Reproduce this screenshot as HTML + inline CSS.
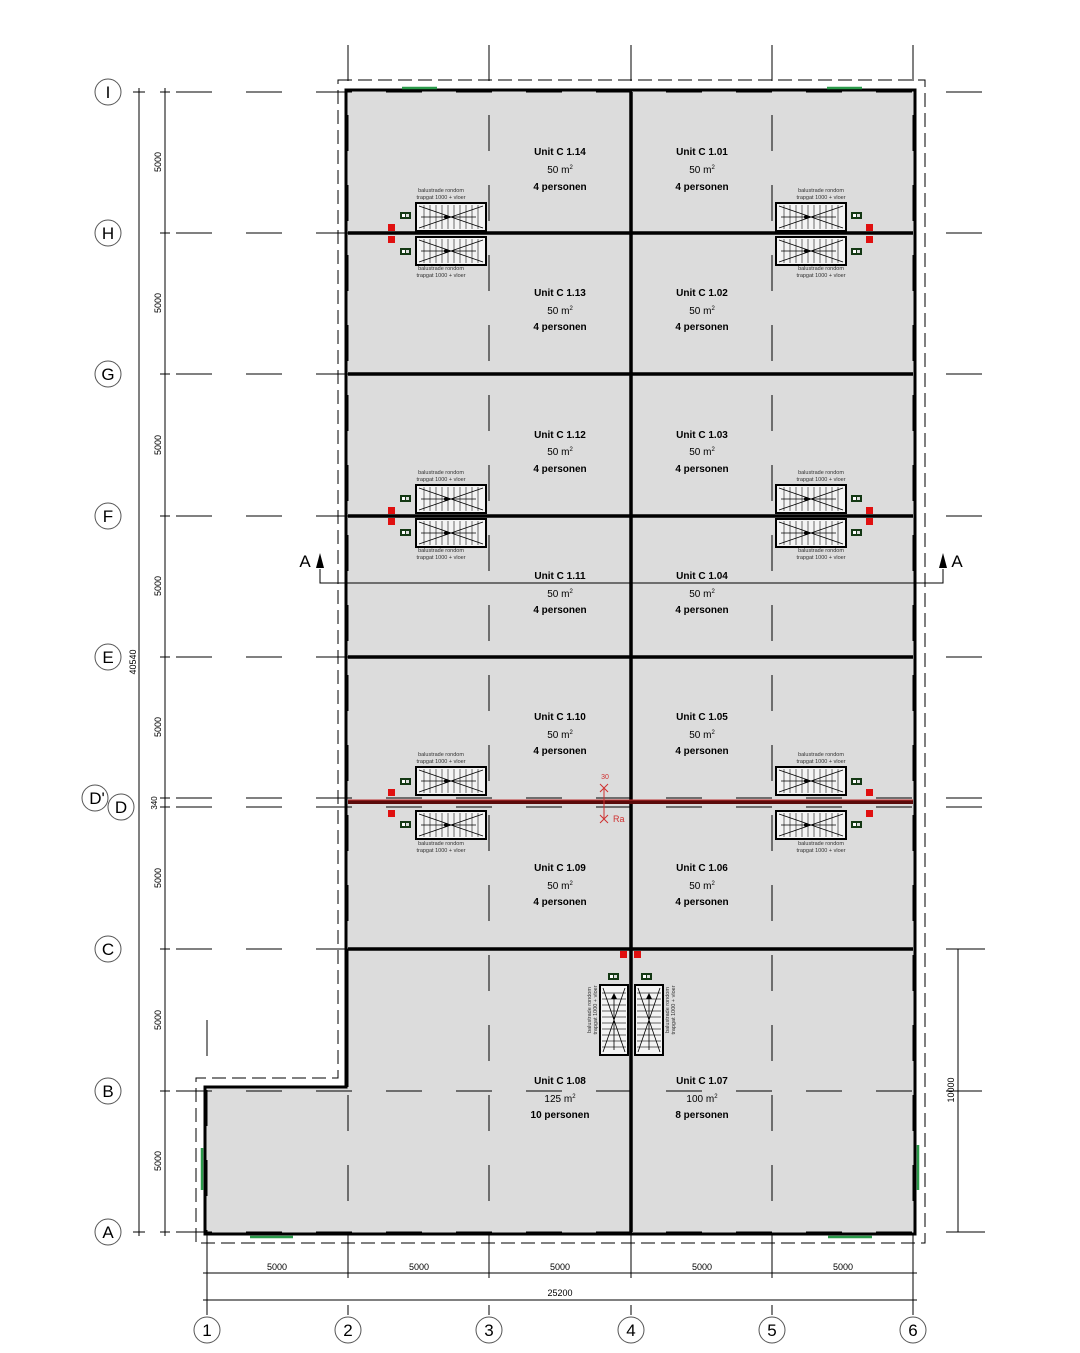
<!DOCTYPE html>
<html><head><meta charset="utf-8"><style>
html,body{margin:0;padding:0;background:#fff}
svg{display:block;font-family:"Liberation Sans",Arial,sans-serif}
.u{font-weight:bold;font-size:10px;text-anchor:middle}
.m{font-size:10px;text-anchor:middle}
.s{font-size:5.5px;text-anchor:middle;fill:#333}
.d{font-size:9px;text-anchor:middle}
</style></head><body>
<svg width="1080" height="1353" viewBox="0 0 1080 1353" xmlns="http://www.w3.org/2000/svg">
<defs>
<g id="st">
<rect x="0" y="0" width="70" height="28" fill="#f4f4f4" stroke="#000" stroke-width="2"/>
<path d="M8 2V26M14 2V26M20 2V26M26 2V26M32 2V26M38 2V26M44 2V26M50 2V26M56 2V26M62 2V26" stroke="#333" stroke-width="0.7"/>
<path d="M3 3L67 25M3 25L67 3M5 14H60" stroke="#000" stroke-width="0.8"/>
<circle cx="30" cy="14" r="2"/>
</g>
<g id="vst">
<rect x="0" y="0" width="28" height="70" fill="#f4f4f4" stroke="#000" stroke-width="2"/>
<path d="M2 8H26M2 14H26M2 20H26M2 26H26M2 32H26M2 38H26M2 44H26M2 50H26M2 56H26M2 62H26" stroke="#333" stroke-width="0.7"/>
<path d="M3 3L25 67M25 3L3 67M14 10V65" stroke="#000" stroke-width="0.8"/>
<path d="M14 8l-3 6h6z"/>
</g>
<g id="gb"><rect width="11" height="7" fill="#143814"/><rect x="2" y="2" width="3" height="3" fill="#fff"/><rect x="6" y="2" width="3" height="3" fill="#ddd"/></g>
</defs>

<path d="M338 80H925V1243H196V1078H338Z" fill="none" stroke="#000" stroke-width="1" stroke-dasharray="14 6"/>
<path d="M346 90H915V1234H205V1087H346Z" fill="#dcdcdc"/>

<g stroke="#000" stroke-width="1" stroke-dasharray="36 34">
<line x1="176" y1="92" x2="985" y2="92"/>
<line x1="176" y1="233" x2="985" y2="233"/>
<line x1="176" y1="374" x2="985" y2="374"/>
<line x1="176" y1="516" x2="985" y2="516"/>
<line x1="176" y1="657" x2="985" y2="657"/>
<line x1="176" y1="798" x2="985" y2="798"/>
<line x1="176" y1="807" x2="985" y2="807"/>
<line x1="176" y1="949" x2="985" y2="949"/>
<line x1="176" y1="1091" x2="985" y2="1091"/>
<line x1="176" y1="1232" x2="985" y2="1232"/>
</g>
<g stroke="#000" stroke-width="1" stroke-dasharray="36 34">
<line x1="348" y1="45" x2="348" y2="1315"/>
<line x1="489" y1="45" x2="489" y2="1315"/>
<line x1="631" y1="45" x2="631" y2="1315"/>
<line x1="772" y1="45" x2="772" y2="1315"/>
<line x1="913" y1="45" x2="913" y2="1315"/>
<line x1="207" y1="1020" x2="207" y2="1315"/>
</g>

<g stroke="#000" fill="none">
<path d="M346 90H915V1234H205V1087H346Z" stroke-width="3"/>
<g stroke-width="3.5">
<line x1="348" y1="233" x2="913" y2="233"/>
<line x1="348" y1="374" x2="913" y2="374"/>
<line x1="348" y1="516" x2="913" y2="516"/>
<line x1="348" y1="657" x2="913" y2="657"/>
<line x1="348" y1="949" x2="913" y2="949"/>
<line x1="631" y1="92" x2="631" y2="1232"/>
</g>
<line x1="348" y1="1087" x2="348" y2="949" stroke-width="1"/>
</g>
<line x1="348" y1="802" x2="913" y2="802" stroke="#5a0a0a" stroke-width="4"/>
<line x1="348" y1="800" x2="913" y2="800" stroke="#c03030" stroke-width="1"/>
<g stroke="#d03030" fill="none" stroke-width="1"><path d="M600 784l8 8M608 784l-8 8M600 815l8 8M608 815l-8 8M604 788V819"/></g>
<text x="605" y="779" font-size="7" fill="#d03030" text-anchor="middle">30</text>
<text x="613" y="822" font-size="9" fill="#d03030">Ra</text>

<g stroke="#2a9a4a" stroke-width="2.5">
<line x1="402" y1="88" x2="437" y2="88"/><line x1="827" y1="88" x2="862" y2="88"/>
<line x1="250" y1="1237" x2="293" y2="1237"/><line x1="828" y1="1237" x2="872" y2="1237"/>
<line x1="202" y1="1148" x2="202" y2="1190"/><line x1="918" y1="1145" x2="918" y2="1190"/>
</g>

<use href="#st" x="416" y="203"/><use href="#st" x="416" y="237"/>
<use href="#st" x="776" y="203"/><use href="#st" x="776" y="237"/>
<use href="#st" x="416" y="485"/><use href="#st" x="416" y="519"/>
<use href="#st" x="776" y="485"/><use href="#st" x="776" y="519"/>
<use href="#st" x="416" y="767"/><use href="#st" x="416" y="811"/>
<use href="#st" x="776" y="767"/><use href="#st" x="776" y="811"/>
<use href="#vst" x="600" y="985"/><use href="#vst" x="635" y="985"/>

<g>
<use href="#gb" x="400" y="212"/><use href="#gb" x="400" y="248"/>
<use href="#gb" x="851" y="212"/><use href="#gb" x="851" y="248"/>
<use href="#gb" x="400" y="495"/><use href="#gb" x="400" y="529"/>
<use href="#gb" x="851" y="495"/><use href="#gb" x="851" y="529"/>
<use href="#gb" x="400" y="778"/><use href="#gb" x="400" y="821"/>
<use href="#gb" x="851" y="778"/><use href="#gb" x="851" y="821"/>
<use href="#gb" x="608" y="973"/><use href="#gb" x="641" y="973"/>
</g>
<g fill="#e01010">
<rect x="388" y="224" width="7" height="7"/><rect x="388" y="236" width="7" height="7"/>
<rect x="866" y="224" width="7" height="7"/><rect x="866" y="236" width="7" height="7"/>
<rect x="388" y="507" width="7" height="7"/><rect x="388" y="518" width="7" height="7"/>
<rect x="866" y="507" width="7" height="7"/><rect x="866" y="518" width="7" height="7"/>
<rect x="388" y="789" width="7" height="7"/><rect x="388" y="810" width="7" height="7"/>
<rect x="866" y="789" width="7" height="7"/><rect x="866" y="810" width="7" height="7"/>
<rect x="620" y="951" width="7" height="7"/><rect x="634" y="951" width="7" height="7"/>
</g>

<g class="s">
<text x="441" y="192">balustrade rondom</text><text x="441" y="199">trapgat 1000 + vloer</text>
<text x="441" y="270">balustrade rondom</text><text x="441" y="277">trapgat 1000 + vloer</text>
<text x="821" y="192">balustrade rondom</text><text x="821" y="199">trapgat 1000 + vloer</text>
<text x="821" y="270">balustrade rondom</text><text x="821" y="277">trapgat 1000 + vloer</text>
<text x="441" y="474">balustrade rondom</text><text x="441" y="481">trapgat 1000 + vloer</text>
<text x="441" y="552">balustrade rondom</text><text x="441" y="559">trapgat 1000 + vloer</text>
<text x="821" y="474">balustrade rondom</text><text x="821" y="481">trapgat 1000 + vloer</text>
<text x="821" y="552">balustrade rondom</text><text x="821" y="559">trapgat 1000 + vloer</text>
<text x="441" y="756">balustrade rondom</text><text x="441" y="763">trapgat 1000 + vloer</text>
<text x="441" y="845">balustrade rondom</text><text x="441" y="852">trapgat 1000 + vloer</text>
<text x="821" y="756">balustrade rondom</text><text x="821" y="763">trapgat 1000 + vloer</text>
<text x="821" y="845">balustrade rondom</text><text x="821" y="852">trapgat 1000 + vloer</text>
<text transform="translate(591 1010) rotate(-90)">balustrade rondom</text>
<text transform="translate(597 1010) rotate(-90)">trapgat 1000 + vloer</text>
<text transform="translate(669 1010) rotate(-90)">balustrade rondom</text>
<text transform="translate(675 1010) rotate(-90)">trapgat 1000 + vloer</text>
</g>

<g>
<text class="u" x="560" y="155">Unit C 1.14</text><text class="m" x="560" y="173">50 m<tspan font-size="6" dy="-4">2</tspan></text><text class="u" x="560" y="190">4 personen</text>
<text class="u" x="702" y="155">Unit C 1.01</text><text class="m" x="702" y="173">50 m<tspan font-size="6" dy="-4">2</tspan></text><text class="u" x="702" y="190">4 personen</text>
<text class="u" x="560" y="296">Unit C 1.13</text><text class="m" x="560" y="314">50 m<tspan font-size="6" dy="-4">2</tspan></text><text class="u" x="560" y="330">4 personen</text>
<text class="u" x="702" y="296">Unit C 1.02</text><text class="m" x="702" y="314">50 m<tspan font-size="6" dy="-4">2</tspan></text><text class="u" x="702" y="330">4 personen</text>
<text class="u" x="560" y="438">Unit C 1.12</text><text class="m" x="560" y="455">50 m<tspan font-size="6" dy="-4">2</tspan></text><text class="u" x="560" y="472">4 personen</text>
<text class="u" x="702" y="438">Unit C 1.03</text><text class="m" x="702" y="455">50 m<tspan font-size="6" dy="-4">2</tspan></text><text class="u" x="702" y="472">4 personen</text>
<text class="u" x="560" y="579">Unit C 1.11</text><text class="m" x="560" y="597">50 m<tspan font-size="6" dy="-4">2</tspan></text><text class="u" x="560" y="613">4 personen</text>
<text class="u" x="702" y="579">Unit C 1.04</text><text class="m" x="702" y="597">50 m<tspan font-size="6" dy="-4">2</tspan></text><text class="u" x="702" y="613">4 personen</text>
<text class="u" x="560" y="720">Unit C 1.10</text><text class="m" x="560" y="738">50 m<tspan font-size="6" dy="-4">2</tspan></text><text class="u" x="560" y="754">4 personen</text>
<text class="u" x="702" y="720">Unit C 1.05</text><text class="m" x="702" y="738">50 m<tspan font-size="6" dy="-4">2</tspan></text><text class="u" x="702" y="754">4 personen</text>
<text class="u" x="560" y="871">Unit C 1.09</text><text class="m" x="560" y="889">50 m<tspan font-size="6" dy="-4">2</tspan></text><text class="u" x="560" y="905">4 personen</text>
<text class="u" x="702" y="871">Unit C 1.06</text><text class="m" x="702" y="889">50 m<tspan font-size="6" dy="-4">2</tspan></text><text class="u" x="702" y="905">4 personen</text>
<text class="u" x="560" y="1084">Unit C 1.08</text><text class="m" x="560" y="1102">125 m<tspan font-size="6" dy="-4">2</tspan></text><text class="u" x="560" y="1118">10 personen</text>
<text class="u" x="702" y="1084">Unit C 1.07</text><text class="m" x="702" y="1102">100 m<tspan font-size="6" dy="-4">2</tspan></text><text class="u" x="702" y="1118">8 personen</text>
</g>

<path d="M320 569V583H943V569" fill="none" stroke="#000" stroke-width="1"/>
<path d="M320 553l-4 15h8z M943 553l-4 15h8z"/>
<text x="305" y="567" font-size="17" text-anchor="middle">A</text>
<text x="957" y="567" font-size="17" text-anchor="middle">A</text>

<g stroke="#000" stroke-width="1">
<line x1="139" y1="88" x2="139" y2="1236"/>
<line x1="165" y1="88" x2="165" y2="1236"/>
<line x1="133" y1="92" x2="145" y2="92"/><line x1="133" y1="1232" x2="145" y2="1232"/>
<line x1="160" y1="92" x2="170" y2="92"/><line x1="160" y1="233" x2="170" y2="233"/><line x1="160" y1="374" x2="170" y2="374"/><line x1="160" y1="516" x2="170" y2="516"/><line x1="160" y1="657" x2="170" y2="657"/><line x1="160" y1="798" x2="170" y2="798"/><line x1="160" y1="807" x2="170" y2="807"/><line x1="160" y1="949" x2="170" y2="949"/><line x1="160" y1="1091" x2="170" y2="1091"/><line x1="160" y1="1232" x2="170" y2="1232"/>
<line x1="958" y1="949" x2="958" y2="1232"/><line x1="952" y1="949" x2="985" y2="949"/><line x1="952" y1="1232" x2="985" y2="1232"/>
<line x1="203" y1="1273" x2="917" y2="1273"/><line x1="203" y1="1300" x2="917" y2="1300"/>
<line x1="207" y1="1265" x2="207" y2="1305"/><line x1="348" y1="1265" x2="348" y2="1278"/><line x1="489" y1="1265" x2="489" y2="1278"/><line x1="631" y1="1265" x2="631" y2="1278"/><line x1="772" y1="1265" x2="772" y2="1278"/><line x1="913" y1="1265" x2="913" y2="1305"/>
</g>
<g class="d">
<text transform="translate(161 162) rotate(-90)">5000</text>
<text transform="translate(161 303) rotate(-90)">5000</text>
<text transform="translate(161 445) rotate(-90)">5000</text>
<text transform="translate(161 586) rotate(-90)">5000</text>
<text transform="translate(161 727) rotate(-90)">5000</text>
<text transform="translate(157 803) rotate(-90)" font-size="8">340</text>
<text transform="translate(161 878) rotate(-90)">5000</text>
<text transform="translate(161 1020) rotate(-90)">5000</text>
<text transform="translate(161 1161) rotate(-90)">5000</text>
<text transform="translate(136 662) rotate(-90)">40540</text>
<text transform="translate(954 1090) rotate(-90)">10000</text>
<text x="277" y="1270">5000</text><text x="419" y="1270">5000</text><text x="560" y="1270">5000</text><text x="702" y="1270">5000</text><text x="843" y="1270">5000</text>
<text x="560" y="1296">25200</text>
</g>

<g fill="#fff" stroke="#555" stroke-width="1">
<circle cx="108" cy="92" r="13"/><circle cx="108" cy="233" r="13"/><circle cx="108" cy="374" r="13"/><circle cx="108" cy="516" r="13"/><circle cx="108" cy="657" r="13"/><circle cx="95" cy="798" r="13"/><circle cx="121" cy="807" r="13"/><circle cx="108" cy="949" r="13"/><circle cx="108" cy="1091" r="13"/><circle cx="108" cy="1232" r="13"/>
<circle cx="207" cy="1330" r="13"/><circle cx="348" cy="1330" r="13"/><circle cx="489" cy="1330" r="13"/><circle cx="631" cy="1330" r="13"/><circle cx="772" cy="1330" r="13"/><circle cx="913" cy="1330" r="13"/>
</g>
<g font-size="17" text-anchor="middle">
<text x="108" y="98">I</text><text x="108" y="239">H</text><text x="108" y="380">G</text><text x="108" y="522">F</text><text x="108" y="663">E</text><text x="97" y="804">D'</text><text x="121" y="813">D</text><text x="108" y="955">C</text><text x="108" y="1097">B</text><text x="108" y="1238">A</text>
<text x="207" y="1336">1</text><text x="348" y="1336">2</text><text x="489" y="1336">3</text><text x="631" y="1336">4</text><text x="772" y="1336">5</text><text x="913" y="1336">6</text>
</g>
</svg>
</body></html>
